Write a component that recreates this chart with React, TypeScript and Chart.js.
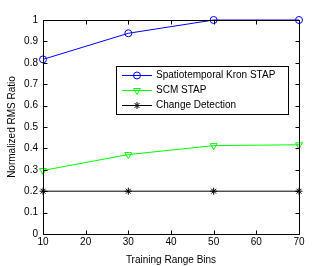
import React, { useEffect, useRef } from "react";
import { Chart, registerables } from "chart.js";
import { drawPoint } from "chart.js/helpers";

Chart.register(...registerables);

const bins = [10, 30, 50, 70];
const kron = [0.816, 0.938, 1.0, 1.0];
const scm = [0.297, 0.371, 0.413, 0.417];
const changeDet = [0.2, 0.2, 0.2, 0.2];
const seriesNames = ["Spatiotemporal Kron STAP", "SCM STAP", "Change Detection"];
const xTicks = [10, 20, 30, 40, 50, 60, 70];
const yTicks = [0, 0.1, 0.2, 0.3, 0.4, 0.5, 0.6, 0.7, 0.8, 0.9, 1];
const xTitle = "Training Range Bins";
const yTitle = "Normalized RMS Ratio";

const FONT = "Liberation Sans, Arial, Helvetica, sans-serif";

const colors = ["#0000ff", "#00ff00", "#000000"];
const styles: any[] = ["circle", "triangle", "star"];
const rotations = [0, 180, 0];
const radii = [3.5, 4, 3.5];

export default function App() {
  const ref = useRef<HTMLCanvasElement | null>(null);
  useEffect(() => {
    document.body.style.margin = "0";
    const canvas = ref.current!;
    const values = [kron, scm, changeDet];
    const boxPlugin = {
      id: "boxPlugin",
      afterDraw(chart: any) {
        const ctx = chart.ctx;
        const { left, right, top, bottom } = chart.chartArea;
        const xs = chart.scales.x;
        const ys = chart.scales.y;
        ctx.save();
        ctx.strokeStyle = "#000";
        ctx.lineWidth = 1;
        ctx.beginPath();
        const L = Math.round(left) + 0.5, R = Math.round(right) + 0.5;
        const T = Math.round(top) + 0.5, B = Math.round(bottom) + 0.5;
        ctx.rect(L, T, R - L, B - T);
        const tl = 4;
        xTicks.forEach((v) => {
          const px = Math.round(xs.getPixelForValue(v)) + 0.5;
          ctx.moveTo(px, B);
          ctx.lineTo(px, B - tl);
          ctx.moveTo(px, T);
          ctx.lineTo(px, T + tl);
        });
        yTicks.forEach((v) => {
          const py = Math.round(ys.getPixelForValue(v)) + 0.5;
          ctx.moveTo(L, py);
          ctx.lineTo(L + tl, py);
          ctx.moveTo(R, py);
          ctx.lineTo(R - tl, py);
        });
        ctx.stroke();

        // legend
        const lx = 116.5, ly = 66.5, lw = 172, lh = 48;
        ctx.fillStyle = "#fff";
        ctx.fillRect(lx, ly, lw, lh);
        ctx.strokeRect(lx, ly, lw, lh);
        ctx.font = `10px ${FONT}`;
        ctx.textBaseline = "middle";
        ctx.textAlign = "left";
        seriesNames.forEach((name, i) => {
          const cy = 75.5 + i * 15;
          ctx.strokeStyle = colors[i];
          ctx.lineWidth = 1;
          ctx.beginPath();
          ctx.moveTo(122, cy);
          ctx.lineTo(152, cy);
          ctx.stroke();
          ctx.fillStyle = "rgba(0,0,0,0)";
          drawPoint(ctx, { pointStyle: styles[i], rotation: rotations[i], radius: radii[i], borderWidth: 1 }, 137, cy);
          ctx.fillStyle = "#000";
          ctx.fillText(name, 156, cy);
        });
        ctx.restore();
      },
    };
    const chart = new Chart(canvas, {
      type: "line",
      data: {
        datasets: values.map((vals, i) => ({
          label: seriesNames[i],
          data: bins.map((b, j) => ({ x: b, y: vals[j] })),
          borderColor: colors[i],
          backgroundColor: "rgba(0,0,0,0)",
          borderWidth: 1,
          pointStyle: styles[i],
          pointRotation: rotations[i],
          pointRadius: radii[i],
          pointBorderColor: colors[i],
          pointBackgroundColor: "rgba(0,0,0,0)",
          pointBorderWidth: 1,
          tension: 0,
          clip: false as any,
        })),
      },
      options: {
        animation: false,
        responsive: false,
        maintainAspectRatio: false,
        layout: { padding: { top: 20, right: 31, bottom: 0, left: 0 }, autoPadding: false },
        plugins: { legend: { display: false }, tooltip: { enabled: false } },
        scales: {
          x: {
            type: "linear",
            min: 10,
            max: 70,
            afterFit: (s: any) => { s.height = 32; },
            afterBuildTicks: (s: any) => { s.ticks = xTicks.map((v) => ({ value: v })); },
            grid: { display: false, drawTicks: false },
            border: { display: false },
            ticks: { color: "#000", font: { family: FONT, size: 10 }, padding: 2, maxRotation: 0, autoSkip: false, callback: (v: any) => String(v) },
            title: { display: true, text: xTitle, color: "#000", font: { family: FONT, size: 10 }, padding: { top: 3, bottom: 0 } },
          },
          y: {
            type: "linear",
            min: 0,
            max: 1,
            afterFit: (s: any) => { s.width = 43; },
            afterBuildTicks: (s: any) => { s.ticks = yTicks.map((v) => ({ value: v })); },
            grid: { display: false, drawTicks: false },
            border: { display: false },
            ticks: { color: "#000", font: { family: FONT, size: 10 }, padding: 5, autoSkip: false, callback: (v: any) => String(Math.round(v * 10) / 10) },
            title: { display: true, text: yTitle, color: "#000", font: { family: FONT, size: 10 }, padding: { top: 6, bottom: 0 } },
          },
        },
      },
      plugins: [boxPlugin],
    } as any);
    return () => chart.destroy();
  }, []);
  return (
    <div style={{ position: "fixed", left: 0, top: 0, width: 330, height: 266, background: "#fff" }}>
      <canvas ref={ref} width={330} height={266} style={{ width: 330, height: 266 }} />
    </div>
  );
}
